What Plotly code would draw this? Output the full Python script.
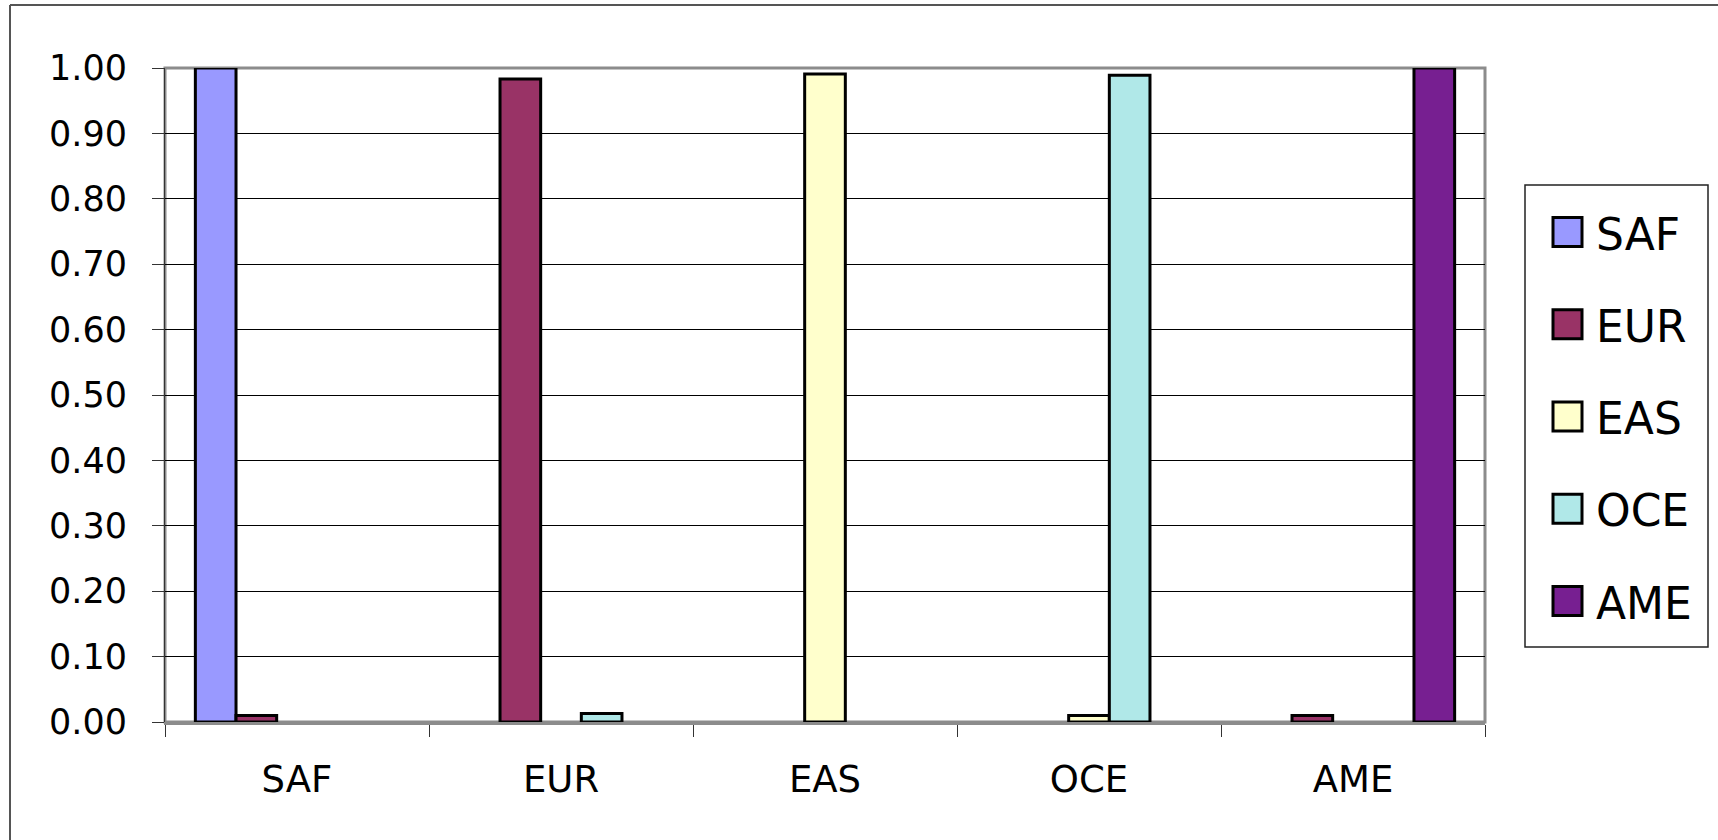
import plotly.graph_objects as go

# Categories on the x axis and the series drawn in each group
categories = ["SAF", "EUR", "EAS", "OCE", "AME"]
series_names = ["SAF", "EUR", "EAS", "OCE", "AME"]

saf_values = [1.00, 0.0, 0.0, 0.0, 0.0]
eur_values = [0.010, 0.983, 0.0, 0.0, 0.010]
eas_values = [0.0, 0.0, 0.991, 0.010, 0.0]
oce_values = [0.0, 0.013, 0.0, 0.989, 0.0]
ame_values = [0.0, 0.0, 0.0, 0.0, 1.00]

series_values = [saf_values, eur_values, eas_values, oce_values, ame_values]
series_colors = ["#9999FF", "#993366", "#FFFFCC", "#B0E8E8", "#771F91"]

y_ticks = [round(0.1 * i, 1) for i in range(11)]

W, H = 1718, 840
ML, MR, MT, MB = 165, 233, 68, 118
PW, PH = W - ML - MR, H - MT - MB


def px_x(x):
    return (x - ML) / PW


def px_y(y):
    return (H - MB - y) / PH


fig = go.Figure()
for name, vals, col in zip(series_names, series_values, series_colors):
    # zero entries are left empty so no outline is drawn on the baseline
    fig.add_trace(go.Bar(
        name=name, x=categories, y=[v if v > 0 else None for v in vals],
        marker=dict(color=col, line=dict(color="#000000", width=3)),
        showlegend=False,
    ))

shapes = []
annotations = []

# plot-area frame
shapes.append(dict(type="rect", xref="paper", yref="paper", x0=0, x1=1, y0=0, y1=1,
                   line=dict(color="#8C8C8C", width=3), layer="between"))

# outer chart frame (top and left edges)
shapes.append(dict(type="line", xref="paper", yref="paper",
                   x0=px_x(10), x1=px_x(W + 5), y0=px_y(5), y1=px_y(5),
                   line=dict(color="#555555", width=2)))
shapes.append(dict(type="line", xref="paper", yref="paper",
                   x0=px_x(10), x1=px_x(10), y0=px_y(5), y1=px_y(H + 5),
                   line=dict(color="#555555", width=2)))

# legend box
shapes.append(dict(type="rect", xref="paper", yref="paper",
                   x0=px_x(1525), x1=px_x(1708), y0=px_y(185), y1=px_y(647),
                   line=dict(color="#222222", width=1.5), fillcolor="white"))

for i, (name, col) in enumerate(zip(series_names, series_colors)):
    cy = 232 + 92.25 * i
    shapes.append(dict(type="rect", xref="paper", yref="paper",
                       x0=px_x(1553), x1=px_x(1582), y0=px_y(cy - 14.5), y1=px_y(cy + 14.5),
                       fillcolor=col, line=dict(color="#000000", width=3)))
    annotations.append(dict(xref="paper", yref="paper", x=px_x(1594), y=px_y(cy + 2),
                            text=name, showarrow=False, xanchor="left", yanchor="middle",
                            font=dict(size=44, color="#000000")))

fig.update_layout(
    width=W, height=H,
    margin=dict(l=ML, r=MR, t=MT, b=MB, pad=0),
    paper_bgcolor="white", plot_bgcolor="white",
    barmode="group", bargap=0.23, bargroupgap=0,
    showlegend=False,
    font=dict(family="DejaVu Sans", color="#000000"),
    shapes=shapes, annotations=annotations,
    xaxis=dict(
        type="category", tickson="boundaries", ticks="outside", ticklen=12,
        tickcolor="#333333", tickwidth=1, showline=True, linecolor="#8C8C8C", linewidth=3,
        showgrid=False, tickfont=dict(size=37), ticklabelstandoff=23,
    ),
    yaxis=dict(
        range=[0, 1], tickvals=y_ticks, tickformat=".2f", ticks="outside", ticklen=12,
        tickcolor="#333333", tickwidth=1, showline=True, linecolor="#333333", linewidth=1,
        showgrid=True, gridcolor="#000000", gridwidth=1, zeroline=False,
        tickfont=dict(size=35), ticklabelstandoff=18,
    ),
)

fig.write_html("out.html")
